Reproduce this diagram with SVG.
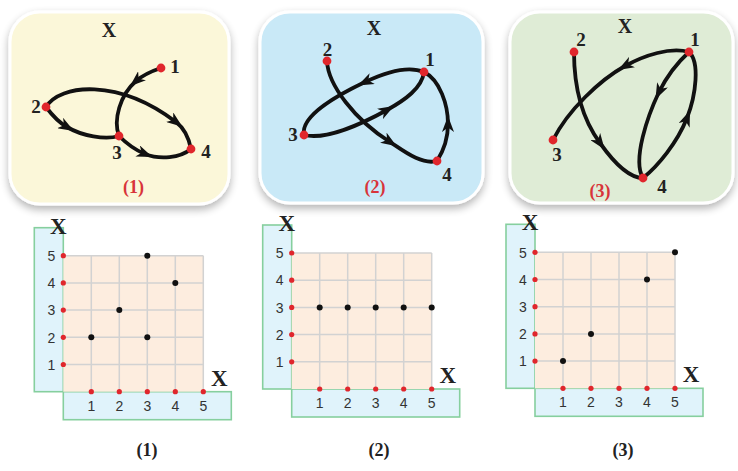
<svg xmlns="http://www.w3.org/2000/svg" xmlns:xlink="http://www.w3.org/1999/xlink" width="738" height="471" viewBox="0 0 738 471">
<style>
.panel{stroke:#ffffff;stroke-width:3;}
.edge{fill:none;stroke:#111;stroke-width:3.8;stroke-linecap:round;marker-mid:url(#arr);}
.node{fill:#e0262c;}
.lbl{font-family:"Liberation Serif","DejaVu Serif",serif;font-size:19px;font-weight:bold;fill:#222;text-anchor:middle;}
.px{font-family:"Liberation Serif","DejaVu Serif",serif;font-size:20px;font-weight:bold;fill:#222;text-anchor:middle;}
.cap{font-family:"Liberation Serif","DejaVu Serif",serif;font-size:18px;font-weight:bold;fill:#d8343a;text-anchor:middle;}
.bcap{font-family:"Liberation Serif","DejaVu Serif",serif;font-size:18px;font-weight:bold;fill:#222;text-anchor:middle;}
.strip{fill:#e0f3fb;stroke:#86cf9e;stroke-width:1.6;}
.cells{fill:#fdeddf;}
.gl{stroke:#d2d2d2;stroke-width:1.5;fill:none;}
.rd{fill:#e0262c;}
.bd{fill:#111;}
.num{font-family:"Liberation Sans","DejaVu Sans",sans-serif;font-size:14px;fill:#333;text-anchor:middle;}
.gx{font-family:"Liberation Serif","DejaVu Serif",serif;font-size:23px;font-weight:bold;fill:#222;text-anchor:middle;}
</style>
<defs>
<marker id="arr" viewBox="0 0 16 12" refX="8" refY="6" markerWidth="16" markerHeight="12" markerUnits="userSpaceOnUse" orient="auto">
<path d="M0,0 L16,6 L0,12 L4.5,6 z" fill="#111"/>
</marker>
<filter id="sh" x="-10%" y="-10%" width="120%" height="125%">
<feGaussianBlur in="SourceAlpha" stdDeviation="4"/>
<feOffset dx="0" dy="4" result="b"/>
<feComponentTransfer><feFuncA type="linear" slope="0.3"/></feComponentTransfer>
<feMerge><feMergeNode/><feMergeNode in="SourceGraphic"/></feMerge>
</filter>
<g id="grid">
<rect class="strip" x="-29" y="-164" width="29" height="164"/>
<rect class="strip" x="0" y="0" width="168" height="28"/>
<rect class="cells" x="0" y="-136" width="140" height="136"/>
<path class="gl" d="M28,0V-136M56,0V-136M84,0V-136M112,0V-136M140,0V-136M0,-27.2H140M0,-54.4H140M0,-81.6H140M0,-108.8H140M0,-136H140"/>
<circle class="rd" cx="0" cy="-27.2" r="2.6"/><circle class="rd" cx="0" cy="-54.4" r="2.6"/><circle class="rd" cx="0" cy="-81.6" r="2.6"/><circle class="rd" cx="0" cy="-108.8" r="2.6"/><circle class="rd" cx="0" cy="-136" r="2.6"/>
<circle class="rd" cx="28" cy="0" r="2.6"/><circle class="rd" cx="56" cy="0" r="2.6"/><circle class="rd" cx="84" cy="0" r="2.6"/><circle class="rd" cx="112" cy="0" r="2.6"/><circle class="rd" cx="140" cy="0" r="2.6"/>
<text class="num" x="-12" y="-22">1</text><text class="num" x="-12" y="-49.2">2</text><text class="num" x="-12" y="-76.4">3</text><text class="num" x="-12" y="-103.6">4</text><text class="num" x="-12" y="-130.8">5</text>
<text class="num" x="28" y="19">1</text><text class="num" x="56" y="19">2</text><text class="num" x="84" y="19">3</text><text class="num" x="112" y="19">4</text><text class="num" x="140" y="19">5</text>
<text class="gx" x="-5" y="-158">X</text>
<text class="gx" x="156" y="-6">X</text>
</g>
</defs>

<g id="panel1">
<rect class="panel" x="10" y="12" width="219" height="192" rx="30" fill="#fbf7d9" filter="url(#sh)"/>
<text class="px" x="109" y="37">X</text>
<text class="cap" x="133.5" y="193">(1)</text>
</g>
<g id="panel2">
<rect class="panel" x="260" y="12" width="223" height="191" rx="30" fill="#c9e9f7" filter="url(#sh)"/>
<text class="px" x="374" y="35">X</text>
<text class="cap" x="375" y="193">(2)</text>
</g>
<g id="panel3">
<rect class="panel" x="510" y="12" width="223" height="191" rx="30" fill="#dfecd6" filter="url(#sh)"/>
<text class="px" x="625" y="33">X</text>
<text class="cap" x="600" y="197">(3)</text>
</g>

<g id="connectors">
<path class="edge" d="M161,68 C152,71 143,75 136,81 C120,95 113,120 119,136"/>
<path class="edge" d="M46,107 C60,84 118,78 176,122 C184,128 189,139 191,149"/>
<path class="edge" d="M46,107 C52,115 58,122 67,127 C82,136 105,140 119,136"/>
<path class="edge" d="M119,136 C127,144 135,150 145,154 C160,160 180,158 191,149"/>

<path class="edge" d="M424,72 C410,66 388,71 365,82 C340,94 300,115 304,135"/>
<path class="edge" d="M304,135 C325,140 360,125 387,110 C405,100 422,88 424,72"/>
<path class="edge" d="M327,61 C328,85 355,120 390,142 C405,152 422,165 437,161"/>
<path class="edge" d="M437,161 C444,150 448,138 448,124 C448,105 440,80 424,72"/>

<path class="edge" d="M689,52 C670,47 645,55 625,66 C600,80 568,110 553,140"/>
<path class="edge" d="M574,52 C574,90 583,120 600,143 C612,160 628,178 643,178"/>
<path class="edge" d="M689,52 C678,62 666,78 659,92 C648,115 632,160 643,178"/>
<path class="edge" d="M643,178 C658,166 677,143 687,118 C696,95 700,62 689,52"/>
</g>

<g id="p1-nodes">
<g id="p1n1"><circle class="node" cx="161" cy="68" r="4.4"/><text class="lbl" x="175" y="73">1</text></g>
<g id="p1n2"><circle class="node" cx="46" cy="107" r="4.4"/><text class="lbl" x="36" y="113">2</text></g>
<g id="p1n3"><circle class="node" cx="119" cy="136" r="4.4"/><text class="lbl" x="117" y="159">3</text></g>
<g id="p1n4"><circle class="node" cx="191" cy="149" r="4.4"/><text class="lbl" x="206" y="158">4</text></g>
</g>
<g id="p2-nodes">
<g id="p2n1"><circle class="node" cx="424" cy="72" r="4.4"/><text class="lbl" x="430" y="66">1</text></g>
<g id="p2n2"><circle class="node" cx="327" cy="61" r="4.4"/><text class="lbl" x="327.5" y="56">2</text></g>
<g id="p2n3"><circle class="node" cx="304" cy="135" r="4.4"/><text class="lbl" x="293" y="141">3</text></g>
<g id="p2n4"><circle class="node" cx="437" cy="161" r="4.4"/><text class="lbl" x="447" y="181">4</text></g>
</g>
<g id="p3-nodes">
<g id="p3n1"><circle class="node" cx="689" cy="52" r="4.4"/><text class="lbl" x="695" y="46">1</text></g>
<g id="p3n2"><circle class="node" cx="574" cy="52" r="4.4"/><text class="lbl" x="581" y="46">2</text></g>
<g id="p3n3"><circle class="node" cx="553" cy="140" r="4.4"/><text class="lbl" x="557" y="161">3</text></g>
<g id="p3n4"><circle class="node" cx="643" cy="178" r="4.4"/><text class="lbl" x="662" y="193">4</text></g>
</g>

<g id="grid1" transform="translate(63.3,391.7)">
<use xlink:href="#grid"/>
<circle class="bd" cx="84" cy="-136" r="3"/>
<circle class="bd" cx="112" cy="-108.8" r="3"/>
<circle class="bd" cx="56" cy="-81.6" r="3"/>
<circle class="bd" cx="28" cy="-54.4" r="3"/>
<circle class="bd" cx="84" cy="-54.4" r="3"/>
</g>
<g id="grid2" transform="translate(291.7,389)">
<use xlink:href="#grid"/>
<circle class="bd" cx="28" cy="-81.6" r="3"/>
<circle class="bd" cx="56" cy="-81.6" r="3"/>
<circle class="bd" cx="84" cy="-81.6" r="3"/>
<circle class="bd" cx="112" cy="-81.6" r="3"/>
<circle class="bd" cx="140" cy="-81.6" r="3"/>
</g>
<g id="grid3" transform="translate(535,388.3)">
<use xlink:href="#grid"/>
<circle class="bd" cx="28" cy="-27.2" r="3"/>
<circle class="bd" cx="56" cy="-54.4" r="3"/>
<circle class="bd" cx="112" cy="-108.8" r="3"/>
<circle class="bd" cx="140" cy="-136" r="3"/>
</g>

<g id="captions">
<text class="bcap" x="147" y="456">(1)</text>
<text class="bcap" x="379" y="456">(2)</text>
<text class="bcap" x="623" y="456">(3)</text>
</g>
</svg>
